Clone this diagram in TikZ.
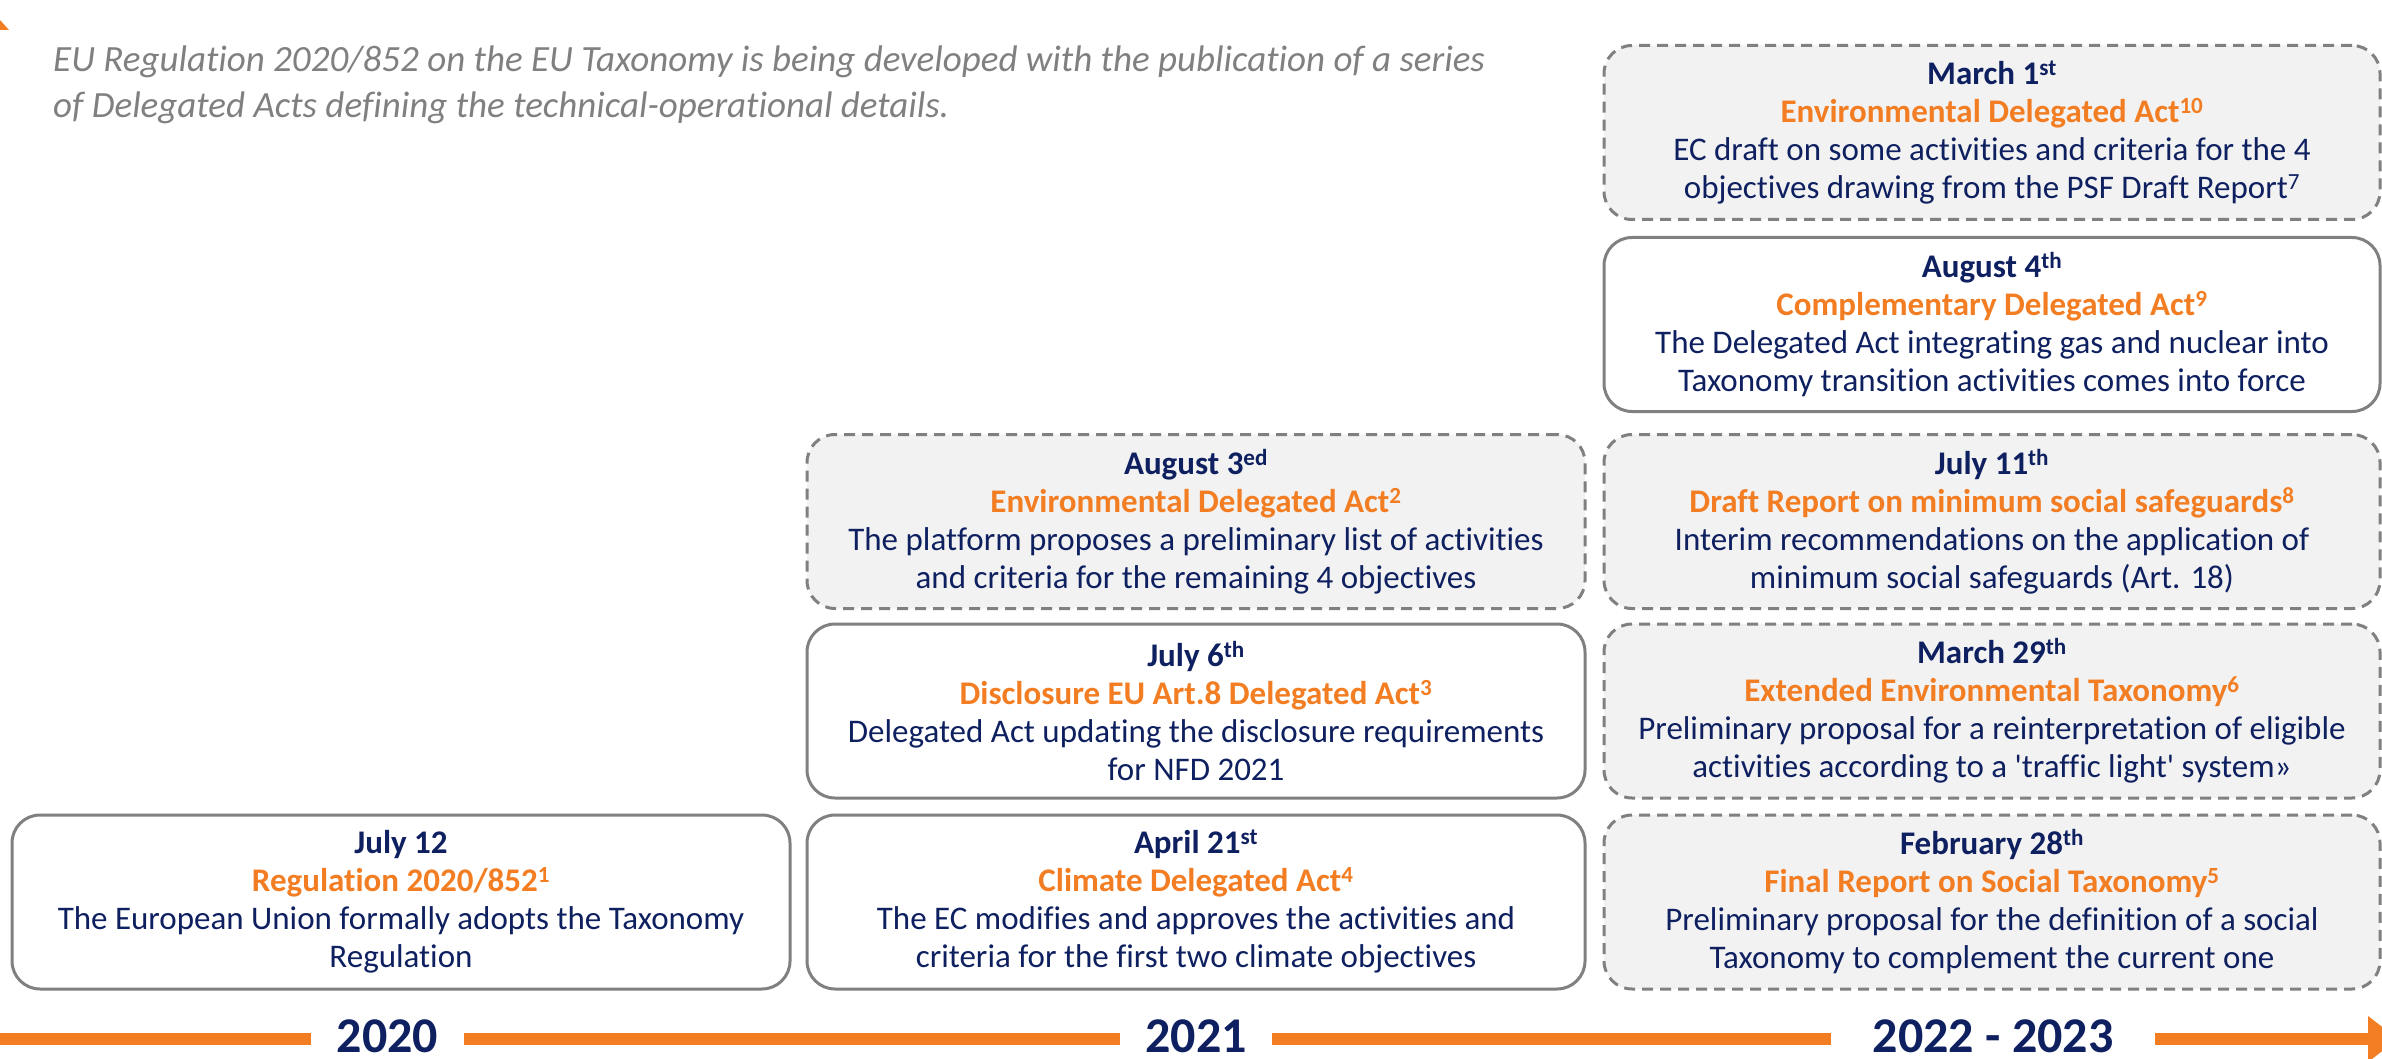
\documentclass[tikz,border=0pt]{standalone}
\usepackage{fontspec}
\setmainfont{Carlito}[Ligatures={NoCommon}]
\usetikzlibrary{arrows.meta}
\definecolor{navy}{RGB}{14,32,96}
\definecolor{orng}{RGB}{243,125,34}
\definecolor{gtxt}{RGB}{128,128,128}
\definecolor{bord}{RGB}{128,128,128}
\definecolor{fillg}{RGB}{242,242,242}
\newcommand\boxdate[1]{{\bfseries #1}}
\newcommand\boxtitle[1]{{\bfseries\color{orng}#1}}
\begin{document}
\begin{tikzpicture}[x=1pt,y=-1pt,
  box/.style={draw=bord, line width=3pt, rounded corners=28pt, minimum width=778pt,
    minimum height=174pt, align=center, text=navy, inner sep=0pt,
    font=\fontsize{33}{38}\selectfont},
  solidbox/.style={box, fill=white},
  dashbox/.style={box, fill=fillg, dash pattern=on 11pt off 7pt},
  year/.style={text=navy, font=\fontsize{50}{56}\selectfont\bfseries, inner sep=0pt},
  tl/.style={draw=orng, line width=12pt},
  hdr/.style={anchor=base west, text=gtxt, inner sep=0pt, font=\fontsize{37}{46}\selectfont\itshape}]
\useasboundingbox (0,0) rectangle (2382,1059);
\fill[orng] (0,20) -- (9,30) -- (0,30) -- cycle;
\node[hdr] (h1) at (53,72) {EU Regulation 2020/852 on the EU Taxonomy is being developed with the publication of a series};
\node[hdr] (h2) at (53,118) {of Delegated Acts defining the technical-operational details.};
% column 3
\node[dashbox, minimum width=776pt] (c3a) at (1992,132.5) {\boxdate{March 1\textsuperscript{st}}\\\boxtitle{Environmental Delegated Act\textsuperscript{10}}\\EC draft on some activities and criteria for the 4\\objectives drawing from the PSF Draft Report\textsuperscript{7}};
\node[solidbox, minimum width=776pt] (c3b) at (1992,324.5) {\boxdate{August 4\textsuperscript{th}}\\\boxtitle{Complementary Delegated Act\textsuperscript{9}}\\The Delegated Act integrating gas and nuclear into\\Taxonomy transition activities comes into force};
\node[dashbox, minimum width=776pt] (c3c) at (1992,521.5) {\boxdate{July 11\textsuperscript{th}}\\\boxtitle{Draft Report on minimum social safeguards\textsuperscript{8}}\\Interim recommendations on the application of\\minimum social safeguards (Art. 18)};
\node[dashbox, minimum width=776pt] (c3d) at (1992,711) {\boxdate{March 29\textsuperscript{th}}\\\boxtitle{Extended Environmental Taxonomy\textsuperscript{6}}\\Preliminary proposal for a reinterpretation of eligible\\activities according to a \textquotesingle traffic light\textquotesingle{} system»};
\node[dashbox, minimum width=776pt] (c3e) at (1992,902) {\boxdate{February 28\textsuperscript{th}}\\\boxtitle{Final Report on Social Taxonomy\textsuperscript{5}}\\Preliminary proposal for the definition of a social\\Taxonomy to complement the current one};
% column 2
\node[dashbox] (c2c) at (1196,521.5) {\boxdate{August 3\textsuperscript{ed}}\\\boxtitle{Environmental Delegated Act\textsuperscript{2}}\\The platform proposes a preliminary list of activities\\and criteria for the remaining 4 objectives};
\node[solidbox] (c2d) at (1196,711) {\boxdate{July 6\textsuperscript{th}}\\\boxtitle{Disclosure EU Art.8 Delegated Act\textsuperscript{3}}\\Delegated Act updating the disclosure requirements\\for NFD 2021};
\node[solidbox] (c2e) at (1196,902) {\boxdate{April 21\textsuperscript{st}}\\\boxtitle{Climate Delegated Act\textsuperscript{4}}\\The EC modifies and approves the activities and\\criteria for the first two climate objectives};
% column 1
\node[solidbox] (c1e) at (401,902) {\boxdate{July 12}\\\boxtitle{Regulation 2020/852\textsuperscript{1}}\\The European Union formally adopts the Taxonomy\\Regulation};
% timeline
\coordinate (t0) at (0,1039);
\coordinate (tend) at (2398,1039);
\node[year, minimum width=153pt] (y20) at (387.5,1036) {2020};
\node[year, minimum width=152pt] (y21) at (1196,1036) {2021};
\node[year, minimum width=324pt] (y22) at (1993,1036) {2022 - 2023};
\draw[tl] (t0) -- (t0 -| y20.west);
\draw[tl] (t0 -| y20.east) -- (t0 -| y21.west);
\draw[tl] (t0 -| y21.east) -- (t0 -| y22.west);
\draw[tl, -{Triangle[length=30pt,width=44pt]}] (t0 -| y22.east) -- (tend);
\end{tikzpicture}
\end{document}
